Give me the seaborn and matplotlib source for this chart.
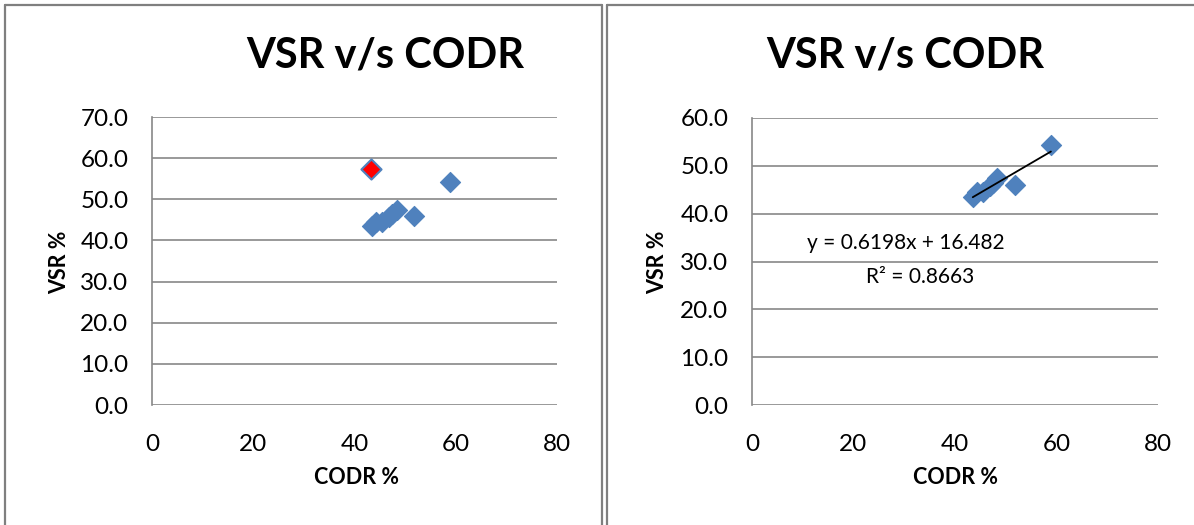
import numpy as np
import pandas as pd
import matplotlib
matplotlib.use("Agg")
import matplotlib.pyplot as plt
from matplotlib.lines import Line2D
import seaborn as sns

# ---- data ----
codr = [43.5, 44.3, 45.5, 46.8, 47.5, 48.3, 51.8, 58.9]
vsr = [43.5, 44.6, 44.5, 45.8, 46.5, 47.5, 45.9, 54.3]
outlier_codr = [43.2]
outlier_vsr = [57.4]
slope = 0.6198
intercept = 16.482
r2 = 0.8663
title = "VSR v/s CODR"
xlabel = "CODR %"
ylabel = "VSR %"
xticks = [0, 20, 40, 60, 80]
yticks_left = [0, 10, 20, 30, 40, 50, 60, 70]
yticks_right = [0, 10, 20, 30, 40, 50, 60]

sns.set_theme(style="white")
plt.rcParams['font.family'] = ['Lato', 'DejaVu Sans']
plt.rcParams['text.color'] = 'black'
plt.rcParams['xtick.color'] = 'black'
plt.rcParams['ytick.color'] = 'black'

BLUE = "#4F81BD"
GRID = "#878787"

W, H = 1194, 525
fig = plt.figure(figsize=(W / 100, H / 100), dpi=100)

def fx(px):
    return px / W

def fy(py):
    return 1 - py / H

ax1 = fig.add_axes([fx(152), fy(405), fx(557) - fx(152), fy(117) - fy(405)])
ax2 = fig.add_axes([fx(752), fy(405), fx(1158) - fx(752), fy(118) - fy(405)])

df = pd.DataFrame({"codr": codr, "vsr": vsr})
dfo = pd.DataFrame({"codr": outlier_codr, "vsr": outlier_vsr})

for ax, yt in [(ax1, yticks_left), (ax2, yticks_right)]:
    sns.scatterplot(data=df, x="codr", y="vsr", ax=ax, marker="D", s=105,
                    color=BLUE, edgecolor=BLUE, linewidth=0.8, zorder=3)
    ax.set_xlim(0, 80)
    ax.set_ylim(0, max(yt))
    ax.set_xticks(xticks)
    ax.set_xticklabels([str(v) for v in xticks], fontsize=17.5)
    ax.set_yticks(yt)
    ax.set_yticklabels([f"{v:.1f}" for v in yt], fontsize=17.5)
    ax.tick_params(axis="x", length=0, pad=21, labelcolor="black")
    ax.tick_params(axis="y", length=0, pad=17, labelcolor="black")
    ax.yaxis.grid(True, color=GRID, linewidth=1.2)
    ax.xaxis.grid(False)
    ax.set_axisbelow(True)
    for s in ["top", "right", "bottom"]:
        ax.spines[s].set_visible(False)
    ax.spines["left"].set_color(GRID)
    ax.spines["left"].set_linewidth(1.2)
    ax.set_xlabel("")
    ax.set_ylabel("")

sns.scatterplot(data=dfo, x="codr", y="vsr", ax=ax1, marker="D", s=105,
                color="#FF0000", edgecolor=BLUE, linewidth=1.5, zorder=4)
ax1.set_xlabel(""); ax1.set_ylabel("")

# trendline on right panel
xs = np.array([min(codr), max(codr)])
ax2.plot(xs, slope * xs + intercept, color="black", linewidth=1.3, zorder=4)
ax2.text(fx(906), fy(243), f"y = {slope}x + {intercept}", transform=fig.transFigure,
         ha="center", va="center", fontsize=15, color="black")
ax2.text(fx(920), fy(277), f"R² = {r2}", transform=fig.transFigure,
         ha="center", va="center", fontsize=15, color="black")

# titles and axis labels
for cx, ylx, xlx in [(385, 60, 356), (905, 658, 956)]:
    fig.text(fx(cx), fy(55), title, ha="center", va="center",
             fontsize=30, fontweight="bold", color="black")
    fig.text(fx(xlx), fy(478), xlabel, ha="center", va="center",
             fontsize=15.5, fontweight="bold", color="black")
    fig.text(fx(ylx), fy(262), ylabel, ha="center", va="center",
             fontsize=15.5, fontweight="bold", rotation=90, color="black")

# panel borders
bc = "#7F7F7F"
for seg in [((5, 5), (5, 530)), ((5, 602), (5, 5)), ((602, 602), (5, 530)),
            ((607, 607), (5, 530)), ((607, 1194), (5, 5))]:
    (x0, x1), (y0, y1) = seg
    fig.add_artist(Line2D([fx(x0), fx(x1)], [fy(y0), fy(y1)],
                          transform=fig.transFigure, color=bc, linewidth=1.6))

fig.savefig("out.png", dpi=100)
